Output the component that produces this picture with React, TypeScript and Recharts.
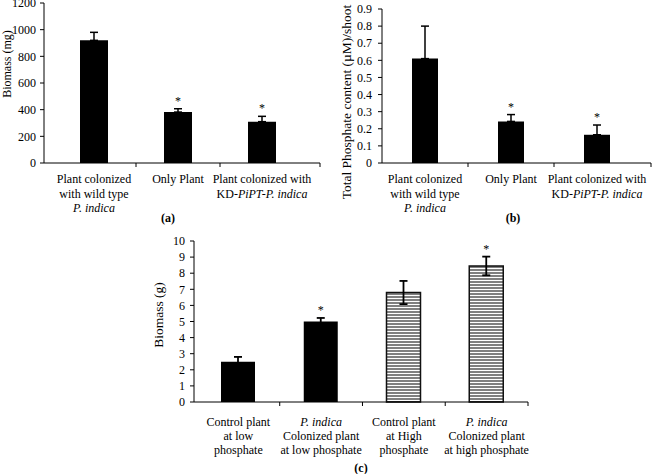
import React from "react";
import { BarChart, Bar, XAxis, YAxis, ErrorBar, Cell, LabelList } from "recharts";

// "|" breaks a label into lines, "_" toggles italics
const colonCategories = [
  "Plant colonized|with wild type|_P. indica_",
  "Only Plant",
  "Plant colonized with|KD-_PiPT-P. indica_",
];
const biomassMg = [920, 382, 310];
const biomassMgErr = [60, 25, 40];
const phosphateContent = [0.61, 0.243, 0.165];
const phosphateErr = [0.19, 0.04, 0.057];
const colonStars = [false, true, true];

const phosCategories = [
  "Control plant|at low|phosphate",
  "_P. indica_|Colonized plant|at low phosphate",
  "Control plant|at High|phosphate",
  "_P. indica_|Colonized plant|at high phosphate",
];
const biomassG = [2.5, 5.0, 6.8, 8.45];
const biomassGErr = [0.3, 0.22, 0.72, 0.58];
const phosStars = [false, true, false, true];
const phosStriped = [false, false, true, true];

const ticksMg = [0, 200, 400, 600, 800, 1000, 1200];
const ticksPhos = [0, 0.1, 0.2, 0.3, 0.4, 0.5, 0.6, 0.7, 0.8, 0.9];
const ticksG = [0, 1, 2, 3, 4, 5, 6, 7, 8, 9, 10];

const FONT = '"Liberation Serif", "Times New Roman", serif';

const rowsA = colonCategories.map((name, i) => ({
  name,
  value: biomassMg[i],
  err: [0, biomassMgErr[i]],
  star: colonStars[i],
}));
const rowsB = colonCategories.map((name, i) => ({
  name,
  value: phosphateContent[i],
  err: [0, phosphateErr[i]],
  star: colonStars[i],
}));
const rowsC = phosCategories.map((name, i) => ({
  name,
  value: biomassG[i],
  err: biomassGErr[i],
  star: phosStars[i],
  striped: phosStriped[i],
}));

function CatTick(props: any) {
  const { x, y, payload, index, half, edge, dy0, lh, count } = props;
  const lines = String(payload.value).split("|");
  return (
    <g>
      {index > 0 && <line x1={x - half} x2={x - half} y1={y} y2={y + 4} stroke="#000" />}
      {index === count - 1 && <line x1={edge} x2={edge} y1={y} y2={y + 4} stroke="#000" />}
      <text x={x} y={y + dy0} textAnchor="middle" fontSize={12} fontFamily={FONT} fill="#000">
        {lines.map((ln, i) => (
          <tspan key={i} x={x} dy={i === 0 ? 0 : lh}>
            {ln.split("_").map((seg, j) => (
              <tspan key={j} fontStyle={j % 2 ? "italic" : "normal"}>
                {seg}
              </tspan>
            ))}
          </tspan>
        ))}
      </text>
    </g>
  );
}

const starLabel = (rows: any[]) => (props: any) => {
  const row = rows[props.index];
  if (!row || !row.star) return null;
  const vb = props.viewBox ?? props;
  const up = Array.isArray(row.err) ? row.err[1] : row.err;
  const top = vb.y - (up * vb.height) / row.value;
  return (
    <text x={vb.x + vb.width / 2} y={top - 4} textAnchor="middle" fontSize={12} fontFamily={FONT} fill="#000">
      *
    </text>
  );
};

const yTick = { fontSize: 12, fill: "#000", fontFamily: FONT };
const blackLine = { stroke: "#000" };

export default function App() {
  return (
    <div style={{ position: "absolute", left: 0, top: 0, width: 656, height: 474, background: "#fff" }}>
      <div style={{ position: "absolute", left: 0, top: 0 }}>
        <BarChart width={330} height={230} data={rowsA} margin={{ top: 3, right: 10, left: 0, bottom: 0 }} barSize={28}>
          <XAxis
            dataKey="name"
            height={67}
            interval={0}
            tickSize={0}
            tickMargin={0}
            tickLine={false}
            padding={{ left: 8, right: 16 }}
            axisLine={blackLine}
            tick={<CatTick half={42} edge={320} dy0={20} lh={14.5} count={3} />}
          />
          <YAxis
            width={44}
            domain={[0, 1200]}
            ticks={ticksMg}
            interval={0}
            tickSize={4}
            tickMargin={4}
            tick={yTick}
            axisLine={blackLine}
            tickLine={blackLine}
          />
          <Bar dataKey="value" fill="#000" isAnimationActive={false}>
            <ErrorBar dataKey="err" direction="y" width={4} strokeWidth={1.5} stroke="#000" />
            <LabelList dataKey="value" content={starLabel(rowsA)} />
          </Bar>
        </BarChart>
      </div>

      <div style={{ position: "absolute", left: 330, top: 0 }}>
        <BarChart width={326} height={230} data={rowsB} margin={{ top: 9, right: 5, left: 0, bottom: 0 }} barSize={26}>
          <XAxis
            dataKey="name"
            height={67}
            interval={0}
            tickSize={0}
            tickMargin={0}
            tickLine={false}
            padding={{ left: 0, right: 11 }}
            axisLine={blackLine}
            tick={<CatTick half={43} edge={321} dy0={20} lh={14.5} count={3} />}
          />
          <YAxis
            width={52}
            domain={[0, 0.9]}
            ticks={ticksPhos}
            interval={0}
            tickSize={4}
            tickMargin={6}
            tick={yTick}
            axisLine={blackLine}
            tickLine={blackLine}
          />
          <Bar dataKey="value" fill="#000" isAnimationActive={false}>
            <ErrorBar dataKey="err" direction="y" width={4} strokeWidth={1.5} stroke="#000" />
            <LabelList dataKey="value" content={starLabel(rowsB)} />
          </Bar>
        </BarChart>
      </div>

      <div style={{ position: "absolute", left: 150, top: 230 }}>
        <BarChart width={390} height={244} data={rowsC} margin={{ top: 11, right: 12, left: 0, bottom: 0 }} barSize={34}>
          <XAxis
            dataKey="name"
            height={72}
            interval={0}
            tickSize={0}
            tickMargin={0}
            tickLine={false}
            padding={{ left: 3, right: 0 }}
            axisLine={blackLine}
            tick={<CatTick half={41.4} edge={378} dy0={24} lh={14} count={4} />}
          />
          <YAxis
            width={44}
            domain={[0, 10]}
            ticks={ticksG}
            interval={0}
            tickSize={4}
            tickMargin={5}
            tick={yTick}
            axisLine={blackLine}
            tickLine={blackLine}
          />
          <Bar dataKey="value" isAnimationActive={false}>
            {rowsC.map((r, i) => (
              <Cell
                key={i}
                fill={r.striped ? "url(#hstripes)" : "#000"}
                stroke={r.striped ? "#111" : "none"}
                strokeWidth={1.5}
              />
            ))}
            <ErrorBar dataKey="err" direction="y" width={4} strokeWidth={1.8} stroke="#000" />
            <LabelList dataKey="value" content={starLabel(rowsC)} />
          </Bar>
        </BarChart>
      </div>

      <svg
        width={656}
        height={474}
        style={{ position: "absolute", left: 0, top: 0, pointerEvents: "none" }}
        fontFamily={FONT}
      >
        <defs>
          <pattern id="hstripes" width={4} height={3} patternUnits="userSpaceOnUse">
            <rect width={4} height={3} fill="#fff" />
            <rect width={4} height={2} fill="#808080" />
          </pattern>
        </defs>
        <text transform="translate(7,64) rotate(-90)" textAnchor="middle" dominantBaseline="central" fontSize={12}>
          Biomass (mg)
        </text>
        <text transform="translate(346,102) rotate(-90)" textAnchor="middle" dominantBaseline="central" fontSize={13.5}>
          Total Phosphate content (µM)/shoot
        </text>
        <text transform="translate(158,315) rotate(-90)" textAnchor="middle" dominantBaseline="central" fontSize={13.5}>
          Biomass (g)
        </text>
        <text x={168} y={222} textAnchor="middle" fontSize={12} fontWeight="bold">(a)</text>
        <text x={513} y={222} textAnchor="middle" fontSize={12} fontWeight="bold">(b)</text>
        <text x={361} y={472} textAnchor="middle" fontSize={12} fontWeight="bold">(c)</text>
      </svg>
    </div>
  );
}
